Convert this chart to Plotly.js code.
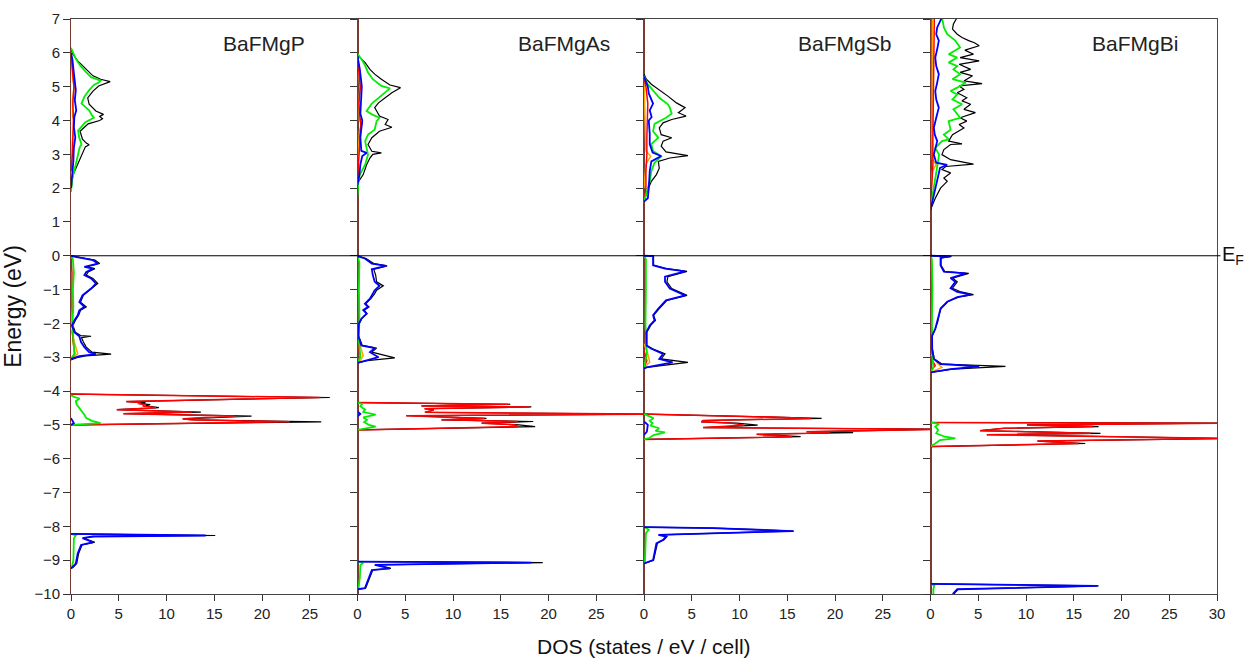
<!DOCTYPE html>
<html>
<head>
<meta charset="utf-8">
<script src="https://cdn.plot.ly/plotly-3.0.1.min.js"></script>
<style>html,body{margin:0;padding:0;background:#fff;}#chart{width:1244px;height:659px;}</style>
</head>
<body>
<div id="chart"></div>
<script>
// ---- DATA: each entry is [Energy (eV), DOS (states/eV/cell)], null separates energy windows ----
const compounds = ['BaFMgP', 'BaFMgAs', 'BaFMgSb', 'BaFMgBi'];
const xTicksInner = [0, 5, 10, 15, 20, 25];
const xTicksLast = [0, 5, 10, 15, 20, 25, 30];
const yTicks = [-10, -9, -8, -7, -6, -5, -4, -3, -2, -1, 0, 1, 2, 3, 4, 5, 6, 7];

// BaFMgP
const P_total = [[1.9,0],[2.1,0.05],[2.3,0.15],[2.45,0.3],[2.7,0.7],[2.9,1.05],[3.1,1.3],[3.22,1.5],[3.28,1.9],[3.33,1.6],[3.45,1.2],[3.68,0.95],[3.9,1.8],[4.0,3.0],[4.05,3.3],[4.12,3.0],[4.18,3.4],[4.28,2.6],[4.48,1.9],[4.67,1.75],[4.87,2.3],[5.02,2.9],[5.15,4.1],[5.22,3.1],[5.32,2.3],[5.47,1.75],[5.61,1.2],[5.76,0.7],[5.96,0.2],[6.1,0], null,
  [0,0],[-0.02,0.4],[-0.13,2.5],[-0.23,3.0],[-0.33,1.6],[-0.38,2.5],[-0.48,1.8],[-0.57,1.6],[-0.67,2.3],[-0.82,2.8],[-0.97,2.2],[-1.17,1.3],[-1.37,1.0],[-1.51,1.6],[-1.61,1.0],[-1.76,0.8],[-1.91,0.45],[-2.06,0.2],[-2.26,0.45],[-2.36,1.0],[-2.38,2.1],[-2.42,1.1],[-2.55,1.3],[-2.7,1.6],[-2.85,2.2],[-2.91,4.2],[-2.96,1.5],[-3.02,0.5],[-3.08,0], null,
  [-4.09,0],[-4.19,27.1],[-4.31,5.8],[-4.34,7.8],[-4.37,7.2],[-4.4,8.3],[-4.44,7.8],[-4.49,9.2],[-4.55,4.8],[-4.62,13.6],[-4.67,5.5],[-4.74,18.9],[-4.82,11.7],[-4.85,13.0],[-4.91,26.2],[-5.0,0], null,
  [-8.22,0],[-8.27,15.1],[-8.3,2.4],[-8.35,1.3],[-8.47,2.5],[-8.55,1.15],[-8.8,0.8],[-9.1,0.6],[-9.2,0.25],[-9.25,0]];
const P_red = [[2.5,0],[3.0,0.15],[3.5,0.2],[4.0,0.25],[4.5,0.2],[5.0,0.3],[5.5,0.15],[6.0,0], null,
  [0,0],[-0.5,0.1],[-1.5,0.1],[-2.5,0.2],[-2.9,0.4],[-3.05,0], null,
  [-4.09,0],[-4.19,26.0],[-4.31,5.8],[-4.34,7.3],[-4.37,7.0],[-4.4,7.8],[-4.44,7.5],[-4.49,8.9],[-4.55,4.8],[-4.62,12.7],[-4.67,5.5],[-4.74,17.1],[-4.82,11.7],[-4.85,12.5],[-4.91,22.9],[-5.0,0]];
const P_green = [[1.9,0],[2.3,0.15],[2.7,0.5],[3.0,0.75],[3.2,0.9],[3.3,1.1],[3.5,0.85],[3.7,0.75],[3.95,1.5],[4.08,2.4],[4.15,2.2],[4.3,1.9],[4.5,1.1],[4.7,1.4],[4.9,1.9],[5.05,2.4],[5.12,2.9],[5.18,3.1],[5.28,2.1],[5.45,1.5],[5.65,0.9],[5.85,0.45],[6.05,0.1],[6.15,0], null,
  [0,0],[-0.1,0.2],[-0.5,0.3],[-1.0,0.2],[-1.5,0.25],[-2.0,0.15],[-2.5,0.25],[-2.9,0.35],[-3.05,0], null,
  [-4.12,0],[-4.17,0.3],[-4.22,0.9],[-4.3,0.5],[-4.4,0.6],[-4.5,0.9],[-4.6,1.2],[-4.7,1.4],[-4.8,1.6],[-4.88,2.2],[-4.95,3.1],[-4.99,0.5],[-5.0,0], null,
  [-8.22,0],[-8.27,0.5],[-8.35,0.3],[-8.6,0.3],[-9.0,0.25],[-9.2,0.1],[-9.25,0]];
const P_blue = [[2.0,0],[2.4,0.15],[2.8,0.25],[3.2,0.3],[3.5,0.45],[3.8,0.3],[4.1,0.35],[4.3,0.55],[4.6,0.4],[4.9,0.5],[5.1,0.45],[5.4,0.3],[5.8,0.15],[6.0,0], null,
  [0,0],[-0.02,0.2],[-0.13,2.3],[-0.23,2.8],[-0.33,1.4],[-0.38,2.3],[-0.48,1.6],[-0.57,1.4],[-0.67,2.1],[-0.82,2.6],[-0.97,2.1],[-1.17,1.2],[-1.37,0.87],[-1.51,1.4],[-1.61,0.87],[-1.76,0.7],[-1.91,0.35],[-2.06,0.1],[-2.26,0.35],[-2.38,0.87],[-2.55,1.05],[-2.7,1.4],[-2.85,1.9],[-2.91,2.6],[-2.97,0.87],[-3.05,0], null,
  [-4.8,0],[-4.95,0.3],[-5.0,0], null,
  [-8.22,0],[-8.27,14.1],[-8.3,2.3],[-8.35,1.2],[-8.47,2.3],[-8.55,1.05],[-8.8,0.7],[-9.1,0.5],[-9.2,0.17],[-9.25,0]];
const P_orange = [[2.5,0],[3.0,0.1],[3.4,0.15],[4.0,0.35],[4.1,0.2],[4.6,0.15],[5.0,0.35],[5.2,0.2],[5.8,0.05],[6.0,0], null,
  [-2.2,0],[-2.5,0.3],[-2.75,0.5],[-2.9,0.7],[-3.0,0.3],[-3.05,0]];

// BaFMgAs
const As_total = [[2.15,0],[2.4,0.6],[2.69,0.95],[2.89,1.3],[3.0,1.6],[3.04,2.5],[3.09,1.5],[3.29,1.1],[3.49,1.5],[3.68,2.3],[3.8,3.6],[3.88,2.9],[4.03,3.2],[4.13,2.3],[4.38,1.8],[4.52,2.2],[4.67,2.9],[4.82,3.6],[4.97,4.5],[5.05,3.4],[5.22,2.5],[5.37,1.8],[5.51,1.3],[5.71,0.8],[5.86,0.25],[5.96,0], null,
  [0,0],[-0.02,0.2],[-0.08,0.9],[-0.23,1.7],[-0.3,3.1],[-0.4,1.7],[-0.57,1.9],[-0.77,2.0],[-0.89,2.7],[-1.02,2.0],[-1.12,1.8],[-1.27,1.4],[-1.42,0.85],[-1.51,1.2],[-1.61,0.7],[-1.71,1.0],[-1.86,0.45],[-2.0,0.2],[-2.36,0.1],[-2.65,0.5],[-2.73,2.0],[-2.85,1.5],[-3.02,3.9],[-3.1,1.0],[-3.17,0], null,
  [-4.34,0],[-4.39,16.0],[-4.44,6.7],[-4.47,18.2],[-4.52,7.1],[-4.56,8.0],[-4.63,7.1],[-4.68,31],[-4.73,5.1],[-4.81,13.5],[-4.85,8.8],[-4.9,18.4],[-4.95,13.0],[-5.0,16.9],[-5.05,18.6],[-5.15,0], null,
  [-9.04,0],[-9.07,19.4],[-9.14,1.9],[-9.24,3.5],[-9.29,1.6],[-9.58,1.2],[-9.83,0.85],[-9.86,0]];
const As_red = [[2.2,0],[3.0,0.15],[3.9,0.35],[4.1,0.25],[4.5,0.15],[5.0,0.3],[5.8,0], null,
  [-2.6,0],[-2.95,0.3],[-3.17,0], null,
  [-4.34,0],[-4.39,15.8],[-4.44,6.7],[-4.47,18.0],[-4.52,7.0],[-4.56,7.9],[-4.63,7.05],[-4.68,31],[-4.73,5.1],[-4.81,13.3],[-4.85,8.8],[-4.9,16.8],[-4.95,13.0],[-5.0,16.5],[-5.05,16.8],[-5.15,0]];
const As_green = [[1.8,0],[2.2,0.1],[2.4,0.25],[2.69,0.8],[2.99,1.1],[3.19,0.95],[3.39,0.8],[3.58,1.1],[3.73,1.8],[3.98,2.0],[4.08,2.3],[4.18,1.5],[4.28,0.95],[4.5,1.5],[4.7,2.3],[4.95,3.4],[5.02,2.5],[5.22,1.6],[5.42,1.1],[5.62,0.8],[5.82,0.4],[5.97,0], null,
  [0,0],[-0.2,0.2],[-1.0,0.15],[-1.8,0.2],[-2.5,0.15],[-3.0,0.3],[-3.15,0], null,
  [-4.34,0],[-4.38,0.5],[-4.45,0.3],[-4.55,0.8],[-4.62,0.6],[-4.7,1.9],[-4.78,0.6],[-4.85,1.0],[-4.92,0.7],[-5.0,1.2],[-5.05,1.9],[-5.12,0.5],[-5.15,0], null,
  [-9.04,0],[-9.08,0.6],[-9.15,0.3],[-9.5,0.25],[-9.85,0.1],[-9.87,0]];
const As_blue = [[2.1,0],[2.4,0.2],[2.7,0.3],[2.95,0.5],[3.04,0.95],[3.1,0.4],[3.5,0.3],[3.8,0.45],[4.0,0.5],[4.2,0.3],[4.5,0.35],[5.0,0.45],[5.5,0.25],[5.9,0], null,
  [0,0],[-0.02,0.07],[-0.08,0.77],[-0.23,1.5],[-0.3,3.0],[-0.4,1.5],[-0.57,1.6],[-0.77,1.8],[-0.89,2.3],[-1.02,1.8],[-1.12,1.6],[-1.27,1.3],[-1.42,0.77],[-1.51,1.1],[-1.61,0.6],[-1.71,0.95],[-1.86,0.4],[-2.0,0.15],[-2.36,0.07],[-2.65,0.4],[-2.73,1.8],[-2.85,1.3],[-3.0,2.2],[-3.13,0.6],[-3.17,0], null,
  [-4.6,0],[-4.68,0.3],[-4.75,0], null,
  [-9.04,0],[-9.07,18.2],[-9.14,1.8],[-9.24,3.4],[-9.29,1.5],[-9.58,1.1],[-9.83,0.77],[-9.86,0]];
const As_orange = [[2.5,0],[3.0,0.1],[3.7,0.2],[3.9,0.5],[4.0,0.2],[4.5,0.15],[5.0,0.25],[5.8,0], null,
  [-2.4,0],[-2.7,0.3],[-2.95,0.6],[-3.1,0.3],[-3.17,0]];

// BaFMgSb
const Sb_total = [[1.6,0],[1.95,0.4],[2.2,0.77],[2.4,1.3],[2.59,1.6],[2.79,1.5],[2.89,2.7],[2.96,4.6],[3.07,2.3],[3.24,1.8],[3.39,2.0],[3.49,2.9],[3.58,1.8],[3.78,1.6],[3.93,2.0],[4.03,2.9],[4.13,4.4],[4.23,3.6],[4.38,4.3],[4.52,3.4],[4.72,2.5],[4.87,1.8],[5.07,0.77],[5.22,0.25],[5.37,0], null,
  [0,0],[-0.01,1.0],[-0.28,1.0],[-0.38,2.4],[-0.46,4.5],[-0.62,2.5],[-0.77,2.4],[-0.97,2.9],[-1.17,4.5],[-1.32,2.4],[-1.56,1.6],[-1.76,1.0],[-1.91,1.2],[-2.06,0.7],[-2.26,0.3],[-2.65,0.3],[-2.75,0.9],[-2.9,2.2],[-3.05,1.8],[-3.15,4.6],[-3.3,0.3],[-3.33,0], null,
  [-4.68,0],[-4.73,9.5],[-4.77,13.5],[-4.81,18.6],[-4.87,6.2],[-4.91,6.0],[-4.95,9.7],[-5.01,11.9],[-5.08,6.2],[-5.13,31],[-5.2,17.8],[-5.23,21.9],[-5.28,11.8],[-5.35,16.4],[-5.43,0], null,
  [-8.02,0],[-8.05,7.3],[-8.14,15.7],[-8.25,1.6],[-8.3,2.4],[-8.4,2.1],[-8.5,1.4],[-9.0,1.0],[-9.07,0.3],[-9.1,0]];
const Sb_red = [[1.6,0],[2.0,0.2],[2.5,0.2],[3.0,0.3],[3.5,0.3],[4.0,0.35],[4.5,0.4],[5.0,0.2],[5.3,0], null,
  [-2.8,0],[-3.1,0.3],[-3.3,0], null,
  [-4.68,0],[-4.73,9.0],[-4.77,13.5],[-4.81,17.5],[-4.87,6.2],[-4.91,6.0],[-4.95,9.2],[-5.01,10.5],[-5.08,6.2],[-5.13,31],[-5.2,17.0],[-5.23,19.5],[-5.28,11.8],[-5.35,15.5],[-5.43,0]];
const Sb_green = [[1.6,0],[2.2,0.6],[2.5,0.77],[2.75,1.1],[2.94,1.8],[3.1,0.95],[3.3,0.77],[3.49,1.5],[3.68,0.95],[3.9,1.1],[4.08,2.3],[4.2,2.9],[4.38,2.7],[4.48,2.5],[4.67,1.6],[4.87,0.95],[5.07,0.4],[5.32,0], null,
  [0,0],[-0.1,0.2],[-1.0,0.2],[-2.0,0.15],[-2.9,0.3],[-3.3,0], null,
  [-4.68,0],[-4.72,0.4],[-4.8,1.0],[-4.88,0.6],[-4.95,0.9],[-5.02,0.7],[-5.1,1.6],[-5.18,1.2],[-5.22,2.2],[-5.3,1.0],[-5.38,0.6],[-5.43,0], null,
  [-8.02,0],[-8.1,0.5],[-8.2,0.2],[-8.5,0.15],[-9.05,0.1],[-9.1,0]];
const Sb_blue = [[1.6,0],[1.7,0.4],[2.0,0.5],[2.5,0.6],[2.79,0.77],[2.95,1.8],[3.05,0.9],[3.3,0.6],[3.6,0.6],[4.0,0.5],[4.1,0.8],[4.3,0.6],[4.5,0.95],[4.8,0.5],[5.0,0.4],[5.2,0.1],[5.3,0], null,
  [0,0],[-0.01,0.95],[-0.28,0.95],[-0.38,2.2],[-0.46,4.3],[-0.62,2.2],[-0.77,2.2],[-0.97,2.7],[-1.17,4.3],[-1.32,2.3],[-1.56,1.5],[-1.76,0.95],[-1.91,1.1],[-2.06,0.6],[-2.26,0.25],[-2.65,0.25],[-2.75,0.77],[-2.9,2.0],[-3.05,1.6],[-3.15,3.0],[-3.3,0.25],[-3.33,0], null,
  [-4.9,0],[-5.0,0.4],[-5.2,0.3],[-5.3,0], null,
  [-8.02,0],[-8.05,7.2],[-8.14,15.6],[-8.25,1.5],[-8.3,2.3],[-8.4,2.0],[-8.5,1.3],[-9.0,0.95],[-9.07,0.25],[-9.1,0]];
const Sb_orange = [[2.0,0],[2.7,0.2],[2.95,0.7],[3.1,0.2],[3.6,0.15],[4.5,0.1],[5.2,0], null,
  [-2.6,0],[-2.9,0.4],[-3.15,0.6],[-3.3,0]];

// BaFMgBi
const Bi_total = [[1.36,0],[1.7,0.5],[2.0,1.05],[2.2,1.75],[2.3,1.4],[2.45,2.1],[2.55,1.2],[2.64,1.6],[2.71,4.5],[2.84,2.1],[2.99,1.2],[3.14,1.4],[3.29,2.1],[3.31,3.3],[3.39,1.9],[3.58,2.3],[3.78,3.5],[3.88,3.0],[3.98,3.8],[4.08,3.1],[4.23,4.7],[4.33,3.5],[4.48,4.2],[4.58,3.3],[4.67,3.8],[4.82,2.8],[4.92,3.5],[5.02,3.0],[5.09,5.4],[5.17,3.5],[5.32,4.4],[5.42,3.1],[5.51,4.2],[5.66,3.0],[5.76,5.1],[5.86,3.1],[5.96,4.5],[6.08,3.6],[6.21,5.1],[6.3,4.6],[6.36,4.0],[6.45,3.3],[6.55,2.8],[6.7,2.3],[6.85,2.4],[7.05,2.8], null,
  [0,0],[-0.02,2.2],[-0.06,1.1],[-0.28,1.1],[-0.47,1.5],[-0.52,4.0],[-0.66,2.3],[-0.77,2.8],[-0.96,2.3],[-1.07,3.2],[-1.15,4.5],[-1.22,3.0],[-1.36,1.8],[-1.56,1.1],[-1.76,0.9],[-1.96,0.75],[-2.16,0.5],[-2.36,0.2],[-2.76,0.2],[-3.05,0.4],[-3.2,1.2],[-3.27,7.85],[-3.35,2.3],[-3.45,0], null,
  [-4.93,0],[-4.95,31],[-5.0,10.1],[-5.05,17.6],[-5.1,7.7],[-5.17,5.2],[-5.25,17.8],[-5.29,5.9],[-5.4,31],[-5.44,23.0],[-5.48,11.2],[-5.55,16.2],[-5.64,0], null,
  [-9.7,0],[-9.76,17.6],[-9.86,2.9],[-9.98,2.5],[-10.1,2.3]];
const Bi_red = [[1.4,0],[2.0,0.15],[2.7,0.25],[3.5,0.25],[4.5,0.3],[5.5,0.3],[6.5,0.35],[7.05,0.4], null,
  [-3.0,0],[-3.25,0.5],[-3.4,0], null,
  [-4.93,0],[-4.95,31],[-5.0,10.1],[-5.05,17.0],[-5.1,7.7],[-5.17,5.2],[-5.25,16.8],[-5.29,5.9],[-5.4,31],[-5.44,21.3],[-5.48,11.2],[-5.55,15.5],[-5.64,0]];
const Bi_green = [[1.4,0],[2.3,0.5],[2.69,0.7],[2.99,0.9],[3.19,0.5],[3.39,1.2],[3.44,1.9],[3.58,1.4],[3.73,2.1],[3.98,1.9],[4.08,3.1],[4.33,2.4],[4.48,3.3],[4.62,2.3],[4.77,2.8],[4.87,2.1],[4.97,2.8],[5.12,3.7],[5.22,2.3],[5.37,3.1],[5.51,2.4],[5.61,2.8],[5.71,1.9],[5.86,2.8],[5.96,1.9],[6.16,3.1],[6.36,2.6],[6.55,1.75],[6.75,1.4],[7.05,1.2], null,
  [0,0],[-0.1,0.15],[-1.0,0.2],[-2.0,0.15],[-3.0,0.2],[-3.3,0.3],[-3.45,0], null,
  [-4.93,0],[-4.97,0.9],[-5.05,0.5],[-5.15,0.8],[-5.25,0.6],[-5.35,1.5],[-5.4,2.6],[-5.45,1.0],[-5.55,0.5],[-5.64,0], null,
  [-9.7,0],[-9.75,0.4],[-9.85,0.3],[-10.1,0.3]];
const Bi_blue = [[1.36,0],[2.0,0.5],[2.4,0.87],[2.6,1.0],[2.69,1.75],[2.75,0.6],[2.99,0.35],[3.19,0.55],[3.39,0.7],[3.58,0.45],[3.78,0.35],[4.08,0.6],[4.38,0.87],[4.62,0.6],[4.87,0.5],[5.12,0.7],[5.37,0.87],[5.61,0.6],[5.86,0.5],[6.11,0.7],[6.36,0.87],[6.55,0.6],[6.75,0.7],[7.05,1.2], null,
  [0,0],[-0.02,2.1],[-0.06,1.05],[-0.28,1.05],[-0.47,1.4],[-0.52,3.7],[-0.66,2.1],[-0.77,2.6],[-0.96,2.1],[-1.07,2.8],[-1.15,4.2],[-1.22,2.8],[-1.36,1.75],[-1.56,1.05],[-1.76,0.87],[-1.96,0.7],[-2.16,0.5],[-2.36,0.17],[-2.76,0.17],[-3.05,0.35],[-3.2,1.05],[-3.27,5.1],[-3.35,2.1],[-3.45,0], null,
  [-9.7,0],[-9.76,17.5],[-9.86,2.8],[-9.98,2.4],[-10.1,2.2]];
const Bi_orange = [[1.8,0],[2.5,0.2],[2.7,0.6],[2.85,0.2],[3.5,0.15],[5.0,0.15],[6.0,0.2],[7.05,0.2], null,
  [-2.9,0],[-3.2,0.8],[-3.3,1.2],[-3.4,0.3],[-3.45,0]];

// ---- BUILD ----
const seriesByCompound = [
  [P_total, P_orange, P_red, P_green, P_blue],
  [As_total, As_orange, As_red, As_green, As_blue],
  [Sb_total, Sb_orange, Sb_red, Sb_green, Sb_blue],
  [Bi_total, Bi_orange, Bi_red, Bi_green, Bi_blue]
];
const seriesColors = ['#000000', '#ffa500', '#ff0000', '#00ee00', '#0000ff'];
const seriesWidths = [1.2, 1.5, 1.5, 1.8, 1.8];

const FONT = 'Liberation Sans, Arial, Helvetica, sans-serif';
const traces = [];
seriesByCompound.forEach((list, ci) => {
  const sfx = ci === 0 ? '' : String(ci + 1);
  list.forEach((arr, si) => {
    traces.push({
      type: 'scatter', mode: 'lines',
      x: arr.map(p => p ? p[1] : null),
      y: arr.map(p => p ? p[0] : null),
      xaxis: 'x' + sfx, yaxis: 'y' + sfx,
      line: {color: seriesColors[si], width: seriesWidths[si]},
      connectgaps: false, showlegend: false, hoverinfo: 'skip'
    });
  });
});

const layout = {
  width: 1244, height: 659,
  margin: {l: 71, r: 27, t: 19, b: 65},
  paper_bgcolor: '#ffffff', plot_bgcolor: '#ffffff',
  font: {family: FONT, color: '#222222'},
  showlegend: false,
  annotations: [], shapes: []
};
const xTitleX = [24.7, 26.6, 26.1, 26.1];
for (let i = 0; i < 4; i++) {
  const sfx = i === 0 ? '' : String(i + 1);
  layout['xaxis' + sfx] = {
    domain: [i / 4, (i + 1) / 4], range: [0, 30], anchor: 'y' + sfx,
    tickmode: 'array', tickvals: i === 3 ? xTicksLast : xTicksInner,
    ticks: 'outside', ticklen: 6, tickcolor: '#333', tickwidth: 1,
    showline: true, linecolor: '#444', linewidth: 1, mirror: true,
    showgrid: false, zeroline: false,
    tickfont: {size: 15, family: FONT, color: '#222'}
  };
  layout['yaxis' + sfx] = {
    domain: [0, 1], range: [-10, 7], anchor: 'x' + sfx,
    tickmode: 'array', tickvals: yTicks,
    ticks: 'outside', ticklen: 7, tickcolor: '#333', tickwidth: 1,
    showticklabels: i === 0,
    showline: true, linecolor: '#7a3a30', linewidth: 1, mirror: true,
    showgrid: false, zeroline: false,
    tickfont: {size: 15, family: FONT, color: '#222'}
  };
  layout.annotations.push({
    text: compounds[i], xref: 'x' + sfx, yref: 'y' + sfx,
    x: xTitleX[i], y: 6.27, xanchor: 'right', yanchor: 'middle',
    showarrow: false, font: {size: 21, family: FONT, color: '#222'}
  });
}
layout.yaxis.title = {text: 'Energy (eV)', font: {size: 23, family: FONT, color: '#111'}, standoff: 6};
layout.annotations.push({
  text: 'DOS (states / eV / cell)', xref: 'paper', yref: 'paper',
  x: 0.5, y: -0.092, xanchor: 'center', yanchor: 'middle',
  showarrow: false, font: {size: 21, family: FONT, color: '#111'}
});
layout.annotations.push({
  text: 'E<sub>F</sub>', xref: 'paper', yref: 'y',
  x: 1.003, y: 0, xanchor: 'left', yanchor: 'middle',
  showarrow: false, font: {size: 20, family: FONT, color: '#111'}
});
layout.shapes.push({
  type: 'line', xref: 'paper', yref: 'y', x0: 0, x1: 1.003, y0: 0, y1: 0,
  line: {color: '#000', width: 1.2}
});

Plotly.newPlot('chart', traces, layout, {staticPlot: true, displayModeBar: false});
</script>
</body>
</html>
